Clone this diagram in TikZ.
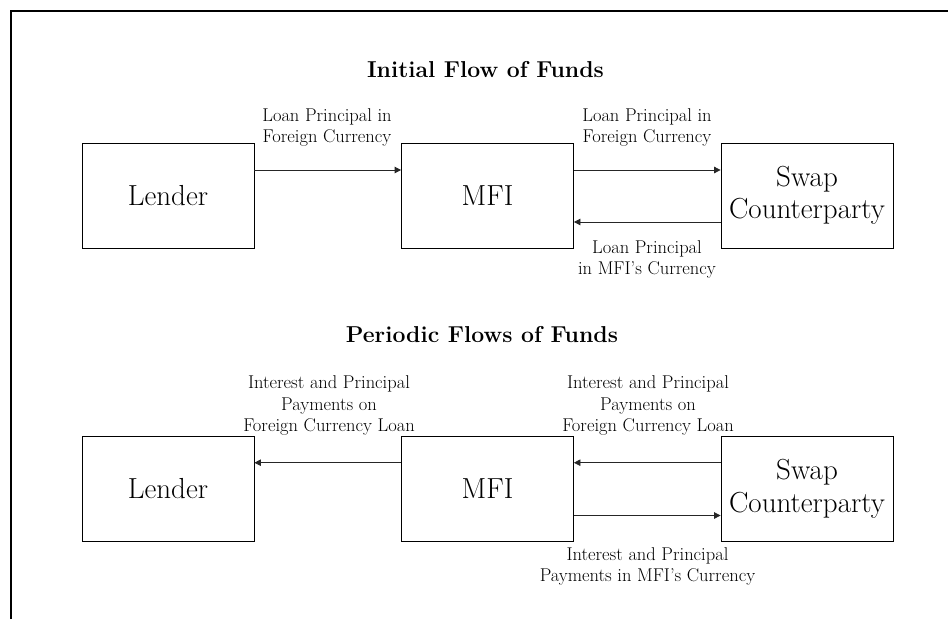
\documentclass[tikz,border=0pt]{standalone}
\usetikzlibrary{arrows.meta}
\begin{document}
\begin{tikzpicture}[x=1pt,y=-1pt,
  party/.style={draw=black,line width=0.8pt,minimum width=172pt,minimum height=105pt,inner sep=0pt,align=center,font=\fontsize{29}{32.5}\selectfont},
  flowlabel/.style={align=center,inner sep=0pt,font=\fontsize{18.5}{21.3}\selectfont},
  heading/.style={inner sep=0pt,font=\fontsize{23}{26}\selectfont\bfseries},
  flow/.style={draw=black!85,line width=0.8pt,-{Triangle[length=6.5pt,width=6.5pt]}},
  frameline/.style={draw=black,line width=2pt}]
\useasboundingbox (0,0) rectangle (948,619);
% frame
\coordinate (fa) at (11,619);
\coordinate (fb) at (11,11);
\coordinate (fc) at (948,11);
\draw[frameline] (fa) -- (fb) -- (fc);
% titles
\node[heading] (t1) at (485.5,70) {Initial Flow of Funds};
\node[heading] (t2) at (482,335) {Periodic Flows of Funds};
% top row
\node[party] (lender1) at (168,195.5) {Lender};
\node[party] (mfi1) at (487.5,195.5) {MFI};
\node[party] (swap1) at (807,195.5) {Swap\\Counterparty};
\draw[flow] ([yshift=25.5pt]lender1.east) -- ([yshift=25.5pt]mfi1.west);
\draw[flow] ([yshift=25.5pt]mfi1.east) -- ([yshift=25.5pt]swap1.west);
\draw[flow] ([yshift=-26.5pt]swap1.west) -- ([yshift=-26.5pt]mfi1.east);
\node[flowlabel] (l1) at (327,127.5) {Loan Principal in\\Foreign Currency};
\node[flowlabel] (l2) at (647,127.5) {Loan Principal in\\Foreign Currency};
\node[flowlabel] (l3) at (647,259.5) {Loan Principal\\in MFI's Currency};
% bottom row
\node[party] (lender2) at (168,489) {Lender};
\node[party] (mfi2) at (487.5,489) {MFI};
\node[party] (swap2) at (807,489) {Swap\\Counterparty};
\draw[flow] ([yshift=26.3pt]mfi2.west) -- ([yshift=26.3pt]lender2.east);
\draw[flow] ([yshift=26.3pt]swap2.west) -- ([yshift=26.3pt]mfi2.east);
\draw[flow] ([yshift=-26.5pt]mfi2.east) -- ([yshift=-26.5pt]swap2.west);
\node[flowlabel] (l4) at (329,405.5) {Interest and Principal\\Payments on\\Foreign Currency Loan};
\node[flowlabel] (l5) at (648,405.5) {Interest and Principal\\Payments on\\Foreign Currency Loan};
\node[flowlabel] (l6) at (647.5,566.5) {Interest and Principal\\Payments in MFI's Currency};
\end{tikzpicture}
\end{document}
